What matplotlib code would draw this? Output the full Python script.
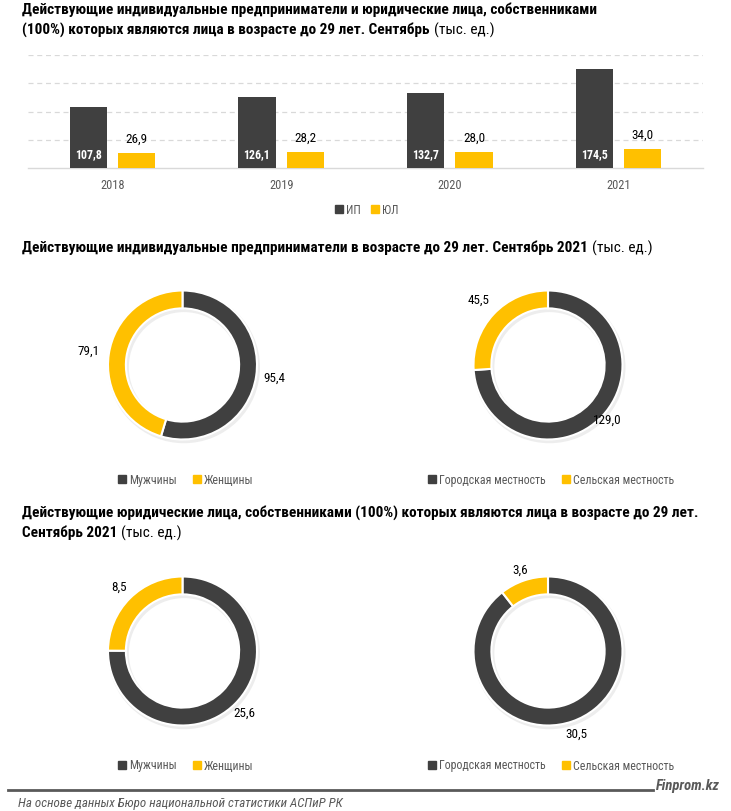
import numpy as np
import matplotlib
matplotlib.use("Agg")
import matplotlib.pyplot as plt
from matplotlib.lines import Line2D

# ---------------- data ----------------
years = ["2018", "2019", "2020", "2021"]
ip_values = [107.8, 126.1, 132.7, 174.5]
ul_values = [26.9, 28.2, 28.0, 34.0]
bar_series = ["ИП", "ЮЛ"]

gender_labels = ["Мужчины", "Женщины"]
area_labels = ["Городская местность", "Сельская местность"]
ip_gender = [95.4, 79.1]
ip_area = [129.0, 45.5]
ul_gender = [25.6, 8.5]
ul_area = [30.5, 3.6]

title1_bold = "Действующие индивидуальные предприниматели и юридические лица, собственниками\n(100%) которых являются лица в возрасте до 29 лет. Сентябрь"
title2_bold = "Действующие индивидуальные предприниматели в возрасте до 29 лет. Сентябрь 2021"
title3_bold = "Действующие юридические лица, собственниками (100%) которых являются лица в возрасте до 29 лет.\nСентябрь 2021"
unit_text = "(тыс. ед.)"
source_text = "На основе данных Бюро национальной статистики АСПиР РК"
brand_text = "Finprom.kz"

# ---------------- style ----------------
DARK = "#404040"
YELLOW = "#FFC000"
GRAY = "#595959"
FONT = ["Roboto Condensed", "Liberation Sans Narrow", "Roboto", "DejaVu Sans"]
plt.rcParams["font.family"] = FONT

W, H = 731, 811
fig = plt.figure(figsize=(W / 100, H / 100), dpi=100)
fig.patch.set_facecolor("white")
renderer = fig.canvas.get_renderer()


def fx(x):
    return x / W


def fy(y):
    return 1 - y / H


def size_for(s, target_px, **kw):
    t = fig.text(0, 0, s, fontsize=10, **kw)
    w = t.get_window_extent(renderer=renderer).width
    t.remove()
    return 10 * target_px / w


TITLE_SIZE = size_for(title1_bold.split("\n")[0], 575, fontweight="bold")
BAR_IN_SIZE = size_for("107,8", 27, fontweight="bold")
LABEL_SIZE = size_for("95,4", 22)
TICK_SIZE = size_for("2018", 24)
LEG_SIZE = size_for("Городская местность", 107)
SRC_SIZE = size_for(source_text, 324, fontstyle="italic")
BRAND_SIZE = size_for(brand_text, 64, fontweight="bold", fontstyle="italic")


def mixed_title(x, y_first, bold_text, normal_text, line_gap=20):
    lines = bold_text.split("\n")
    last = None
    for i, ln in enumerate(lines):
        last = fig.text(fx(x), fy(y_first + i * line_gap), ln, fontsize=TITLE_SIZE,
                        fontweight="bold", color="black", va="center", ha="left")
    bb = last.get_window_extent(renderer=renderer)
    x_end = bb.x1 / fig.dpi * 100
    fig.text(fx(x_end + 4), last.get_position()[1], normal_text, fontsize=TITLE_SIZE,
             color="black", va="center", ha="left")


# ---------------- titles ----------------
mixed_title(22, 10, title1_bold, unit_text)
mixed_title(22, 248, title2_bold, unit_text)
mixed_title(22, 513, title3_bold, unit_text)

# ---------------- bar chart ----------------
ax = fig.add_axes([fx(28), fy(168), fx(675), 113 / H])
x = np.arange(len(years))
bw = 0.22
off = 0.143
ax.bar(x - off, ip_values, width=bw, color=DARK, zorder=3)
ax.bar(x + off, ul_values, width=bw, color=YELLOW, zorder=3)
ax.set_xlim(-0.5, len(years) - 0.5)
ax.set_ylim(0, 200)
ax.set_yticks([50, 100, 150, 200])
ax.yaxis.grid(True, linestyle=(0, (4, 3)), color="#D9D9D9", linewidth=0.9, zorder=0)
ax.tick_params(axis="y", left=False, labelleft=False)
ax.set_xticks(x)
ax.set_xticklabels(years, fontsize=TICK_SIZE, color=GRAY)
ax.tick_params(axis="x", length=0, pad=8)
for s in ["top", "right", "left"]:
    ax.spines[s].set_visible(False)
ax.spines["bottom"].set_color("#D9D9D9")
ax.spines["bottom"].set_linewidth(1.0)
for xi, v in zip(x, ip_values):
    ax.text(xi - off, 23, f"{v:.1f}".replace(".", ","), ha="center", va="center",
            color="white", fontweight="bold", fontsize=BAR_IN_SIZE, zorder=4)
for xi, v in zip(x, ul_values):
    ax.text(xi + off, v + 24, f"{v:.1f}".replace(".", ","), ha="center", va="center",
            color="black", fontsize=LABEL_SIZE, zorder=4)

handles = [Line2D([], [], marker="s", linestyle="", color=c, markersize=5.5)
           for c in (DARK, YELLOW)]
fig.legend(handles, bar_series, loc="center", bbox_to_anchor=(fx(367), fy(210)),
           ncol=2, frameon=False, fontsize=LEG_SIZE, handlelength=0.6, handletextpad=0.3,
           columnspacing=0.9, labelcolor=GRAY)

# ---------------- donuts ----------------
R_PX = 74.5
SPAN = 1.6


def donut(cx, cy, values, labels, label_r, legend_cx, legend_y):
    size = 2 * SPAN * R_PX
    a = fig.add_axes([fx(cx - size / 2), fy(cy + size / 2), size / W, size / H])
    a.set_aspect("equal")
    a.axis("off")
    a.pie([1], radius=1.02, startangle=90, colors=["#EDEDED"], center=(0.02, -0.03),
          wedgeprops=dict(width=0.28, edgecolor="none"))
    wedges, _ = a.pie(values, radius=1.0, startangle=90, counterclock=False,
                      colors=[DARK, YELLOW],
                      wedgeprops=dict(width=0.24, edgecolor="white", linewidth=1.5))
    a.set_xlim(-SPAN, SPAN)
    a.set_ylim(-SPAN, SPAN)
    for w, v, r in zip(wedges, values, label_r):
        ang = np.deg2rad((w.theta1 + w.theta2) / 2)
        a.text(r * np.cos(ang), r * np.sin(ang), f"{v:.1f}".replace(".", ","),
               ha="center", va="center", fontsize=LABEL_SIZE, color="black")
    hs = [Line2D([], [], marker="s", linestyle="", color=c, markersize=5.5)
          for c in (DARK, YELLOW)]
    fig.legend(hs, labels, loc="center", bbox_to_anchor=(fx(legend_cx), fy(legend_y)),
               ncol=2, frameon=False, fontsize=LEG_SIZE, handlelength=0.6, handletextpad=0.3,
               columnspacing=1.4, labelcolor=GRAY)


donut(182.5, 365, ip_gender, gender_labels, [1.25, 1.27], 186, 480)
donut(548, 365, ip_area, area_labels, [1.08, 1.27], 551, 480)
donut(182.5, 651, ul_gender, gender_labels, [1.18, 1.2], 186, 766)
donut(548, 651, ul_area, area_labels, [1.18, 1.15], 551, 766)

# ---------------- footer ----------------
fig.add_artist(Line2D([fx(8), fx(653)], [fy(790), fy(790)], color=GRAY, linewidth=2))
fig.text(fx(720), fy(786), brand_text, ha="right", va="center", fontsize=BRAND_SIZE,
         fontweight="bold", fontstyle="italic", color=GRAY)
fig.text(fx(18), fy(803), source_text, ha="left", va="center", fontsize=SRC_SIZE,
         fontstyle="italic", color=GRAY)

fig.savefig("out.png", dpi=100, facecolor="white")
